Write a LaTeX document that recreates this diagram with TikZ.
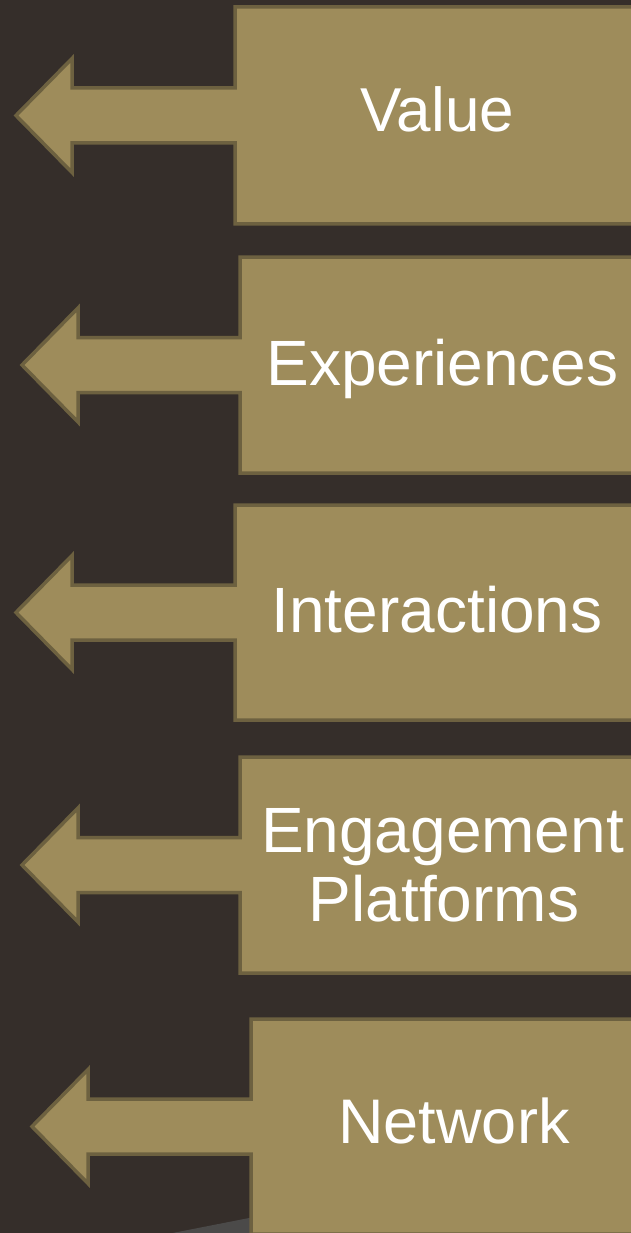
\documentclass[tikz,border=0pt]{standalone}
\usepackage{fontspec}
\setmainfont{Liberation Sans}
\definecolor{bg}{HTML}{352E2A}
\definecolor{tan}{HTML}{9E8C5B}
\definecolor{tanedge}{HTML}{6D6140}
\definecolor{floor}{HTML}{4B4A49}
% tab with a left-pointing arrow: #1 box left, #2 top, #3 bottom, #4 tip x, #5 barb x
\newcommand\tabarrow[5]{%
  \path[tab] (#1,#2) -- (700,#2) -- (700,#3) -- (#1,#3)
    -- (#1,{(#2+#3)/2+27.5}) -- (#5,{(#2+#3)/2+27.5}) -- (#5,{(#2+#3)/2+57})
    -- (#4,{(#2+#3)/2}) -- (#5,{(#2+#3)/2-57}) -- (#5,{(#2+#3)/2-27.5})
    -- (#1,{(#2+#3)/2-27.5}) -- cycle;}
\begin{document}
\begin{tikzpicture}[x=1pt,y=-1pt,
  tab/.style={fill=tan,draw=tanedge,line width=3.5pt,line join=miter},
  caption/.style={text=white,inner sep=0pt,anchor=base,align=center}]
\useasboundingbox (0,0) rectangle (631,1233);
\begin{scope}
\clip (0,0) rectangle (631,1233);
\fill[bg] (0,0) rectangle (631,1233);
\fill[floor] (170,1233.5) -- (300,1208) -- (300,1240) -- (160,1240) -- cycle;
\tabarrow{235}{7}{224}{16}{72}
\tabarrow{240}{257}{473}{22}{78}
\tabarrow{235}{505}{720}{16}{72}
\tabarrow{240}{757}{973}{22}{78}
\tabarrow{251}{1019}{1234}{32}{88}
\end{scope}
\node[caption,font=\fontsize{62}{69}\selectfont] (value) at (437,132) {Value};
\node[caption,font=\fontsize{64}{69}\selectfont] (experiences) at (442.5,385) {Experiences};
\node[caption,font=\fontsize{64}{69}\selectfont] (interactions) at (437,632) {Interactions};
\node[caption,font=\fontsize{64}{69}\selectfont] (engagement) at (442.5,852) {Engagement};
\node[caption,font=\fontsize{64}{69}\selectfont] (platforms) at (444,921) {Platforms};
\node[caption,font=\fontsize{63}{69}\selectfont] (network) at (454,1143) {Network};
\end{tikzpicture}
\end{document}
